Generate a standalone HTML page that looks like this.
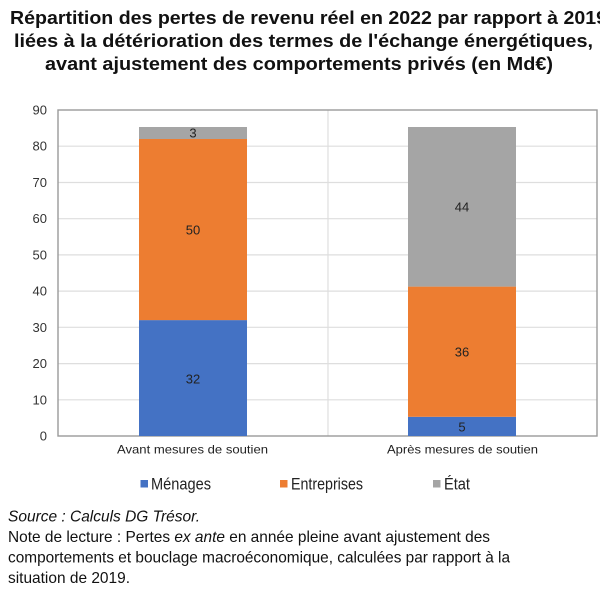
<!DOCTYPE html>
<html><head><meta charset="utf-8"><style>
html,body{margin:0;padding:0;background:#fff;}
svg{display:block;}
text{font-family:"Liberation Sans",Arial,sans-serif;}
</style></head><body>
<svg width="600" height="610" viewBox="0 0 600 610" xmlns="http://www.w3.org/2000/svg">
<rect width="600" height="610" fill="#fff"/>
<!-- Title -->
<g font-weight="bold" font-size="18" fill="#111">
<text x="10" y="24" textLength="597" lengthAdjust="spacingAndGlyphs">Répartition des pertes de revenu réel en 2022 par rapport à 2019</text>
<text x="14" y="47" textLength="579" lengthAdjust="spacingAndGlyphs">liées à la détérioration des termes de l'échange énergétiques,</text>
<text x="45" y="70" textLength="508" lengthAdjust="spacingAndGlyphs">avant ajustement des comportements privés (en Md€)</text>
</g>
<!-- gridlines -->
<g stroke="#dedede" stroke-width="1.2">
<line x1="58" x2="597" y1="399.8" y2="399.8"/>
<line x1="58" x2="597" y1="363.6" y2="363.6"/>
<line x1="58" x2="597" y1="327.3" y2="327.3"/>
<line x1="58" x2="597" y1="291.1" y2="291.1"/>
<line x1="58" x2="597" y1="254.9" y2="254.9"/>
<line x1="58" x2="597" y1="218.7" y2="218.7"/>
<line x1="58" x2="597" y1="182.5" y2="182.5"/>
<line x1="58" x2="597" y1="146.2" y2="146.2"/>
<line x1="328" x2="328" y1="110" y2="436"/>
</g>
<!-- frame -->
<rect x="58" y="110" width="539" height="326" fill="none" stroke="#9a9a9a" stroke-width="1.4"/>
<!-- y labels -->
<g font-size="13" fill="#333" text-anchor="end">
<text x="47" y="114.5">90</text>
<text x="47" y="150.7">80</text>
<text x="47" y="187">70</text>
<text x="47" y="223.2">60</text>
<text x="47" y="259.4">50</text>
<text x="47" y="295.6">40</text>
<text x="47" y="331.8">30</text>
<text x="47" y="368.1">20</text>
<text x="47" y="404.3">10</text>
<text x="47" y="440.5">0</text>
</g>
<!-- bar 1 -->
<rect x="139" y="320.1" width="108" height="115.9" fill="#4472C4"/>
<rect x="139" y="139" width="108" height="181.1" fill="#ED7D31"/>
<rect x="139" y="127" width="108" height="12" fill="#A5A5A5"/>
<!-- bar 2 -->
<rect x="408" y="416.8" width="108" height="19.2" fill="#4472C4"/>
<rect x="408" y="286.6" width="108" height="130.2" fill="#ED7D31"/>
<rect x="408" y="127" width="108" height="159.6" fill="#A5A5A5"/>
<!-- data labels -->
<g font-size="13" fill="#222" text-anchor="middle">
<text x="193" y="137.5">3</text>
<text x="193" y="234.5">50</text>
<text x="193" y="383.5">32</text>
<text x="462" y="211.5">44</text>
<text x="462" y="356.5">36</text>
<text x="462" y="431.5">5</text>
</g>
<!-- category labels -->
<g font-size="12" fill="#222">
<text x="117" y="453.3" textLength="151" lengthAdjust="spacingAndGlyphs">Avant mesures de soutien</text>
<text x="387" y="453.3" textLength="151" lengthAdjust="spacingAndGlyphs">Après mesures de soutien</text>
</g>
<!-- legend -->
<rect x="140.5" y="480" width="7.5" height="7.5" fill="#4472C4"/>
<rect x="280" y="480" width="7.5" height="7.5" fill="#ED7D31"/>
<rect x="433" y="480" width="7.5" height="7.5" fill="#A5A5A5"/>
<g font-size="16.5" fill="#222">
<text x="151" y="489.5" textLength="60" lengthAdjust="spacingAndGlyphs">Ménages</text>
<text x="291" y="489.5" textLength="72" lengthAdjust="spacingAndGlyphs">Entreprises</text>
<text x="444" y="489.5" textLength="26" lengthAdjust="spacingAndGlyphs">État</text>
</g>
<!-- footer -->
<g font-size="16" fill="#111">
<text x="8" y="521.5" font-style="italic" textLength="192" lengthAdjust="spacingAndGlyphs">Source : Calculs DG Trésor.</text>
<text x="8" y="542" textLength="482" lengthAdjust="spacingAndGlyphs">Note de lecture : Pertes <tspan font-style="italic">ex ante</tspan> en année pleine avant ajustement des</text>
<text x="8" y="562.5" textLength="502" lengthAdjust="spacingAndGlyphs">comportements et bouclage macroéconomique, calculées par rapport à la</text>
<text x="8" y="583" textLength="122" lengthAdjust="spacingAndGlyphs">situation de 2019.</text>
</g>
</svg>
</body></html>
